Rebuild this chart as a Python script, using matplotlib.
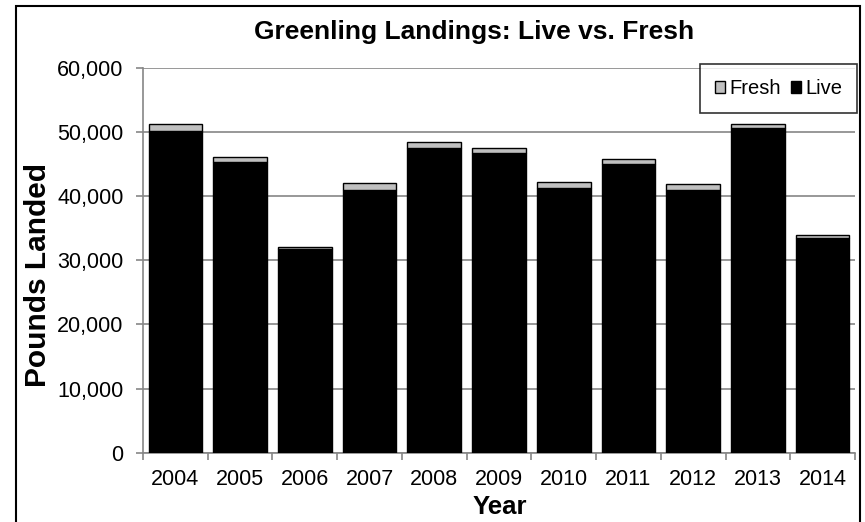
import matplotlib
matplotlib.use("Agg")
import matplotlib.pyplot as plt
from matplotlib.patches import Rectangle
from matplotlib.ticker import FuncFormatter, FixedLocator
import numpy as np

plt.rcParams['font.family'] = ['Liberation Sans', 'DejaVu Sans']

years = ['2004', '2005', '2006', '2007', '2008', '2009', '2010', '2011', '2012', '2013', '2014']
live = [50200, 45400, 31700, 40950, 47550, 46800, 41350, 45050, 41050, 50600, 33450]
fresh = [1100, 750, 450, 1050, 850, 700, 800, 800, 800, 700, 450]

W, H = 865, 522
fig = plt.figure(figsize=(W / 100, H / 100), dpi=100)
ax = fig.add_axes([143 / W, (H - 452.7) / H, (855 - 143) / W, (452.7 - 68) / H])

x = np.arange(len(years))
ax.bar(x, live, width=0.83, color='black', edgecolor='black', linewidth=1.0, label='Live', zorder=3)
ax.bar(x, fresh, bottom=live, width=0.83, color='#c0c0c0', edgecolor='black', linewidth=1.0, label='Fresh', zorder=3)

ax.set_xlim(-0.5, len(years) - 0.5)
ax.set_ylim(0, 60000)
ax.set_yticks(np.arange(0, 60001, 10000))
ax.yaxis.set_major_formatter(FuncFormatter(lambda v, p: f"{int(v):,}"))
ax.yaxis.grid(True, color='#868686', linewidth=1.2, zorder=0)
ax.set_axisbelow(True)

ax.set_xticks(x)
ax.set_xticklabels(years)
ax.xaxis.set_minor_locator(FixedLocator(np.arange(-0.5, len(years), 1.0)))
ax.tick_params(axis='x', which='major', length=0, labelsize=15.5, pad=12)
ax.tick_params(axis='x', which='minor', length=5, color='#868686', width=1.2)
ax.tick_params(axis='y', which='major', length=5, color='#868686', width=1.2, labelsize=15.5, pad=9)

for s in ['top', 'right']:
    ax.spines[s].set_visible(False)
for s in ['left', 'bottom']:
    ax.spines[s].set_color('#868686')
    ax.spines[s].set_linewidth(1.2)

ax.set_ylabel('Pounds Landed', fontsize=21.5, fontweight='bold')
ax.yaxis.set_label_coords(38 / W, (H - 275) / H, transform=fig.transFigure)
ax.set_xlabel('Year', fontsize=18.5, fontweight='bold')
ax.xaxis.set_label_coords(500 / W, (H - 507) / H, transform=fig.transFigure)
ax.xaxis.label.set_va('center')
ax.yaxis.label.set_va('center')
fig.text(474 / W, 1 - 32 / H, 'Greenling Landings: Live vs. Fresh',
         ha='center', va='center', fontsize=19, fontweight='bold')

handles, labels = ax.get_legend_handles_labels()
leg = ax.legend(handles[::-1], labels[::-1], ncol=2, loc='upper right',
                bbox_to_anchor=(857 / W, 1 - 64 / H), bbox_transform=fig.transFigure,
                fontsize=14.5, frameon=True, fancybox=False, edgecolor='black',
                handlelength=0.5, handleheight=0.5, handletextpad=0.2, columnspacing=0.5,
                borderpad=0.75, borderaxespad=0)
leg.get_frame().set_linewidth(1.2)
leg.set_zorder(5)

fig.patches.append(Rectangle((16 / W, -0.05), (860 - 16) / W, 1 - 6 / H + 0.05,
                             transform=fig.transFigure, fill=False, edgecolor='black',
                             linewidth=1.5, zorder=10))

fig.savefig('out.png', dpi=100)
